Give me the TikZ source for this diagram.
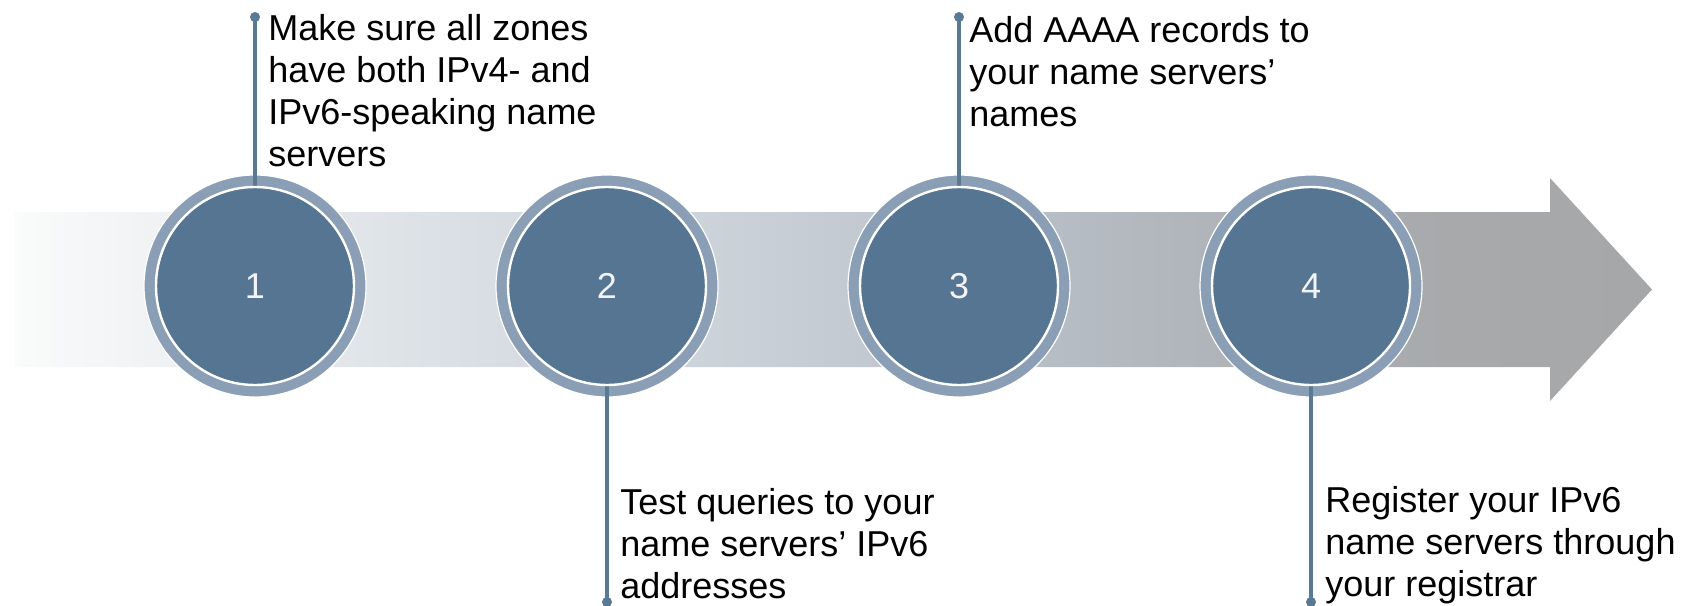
\documentclass[tikz,border=0pt]{standalone}
\usepackage{fontspec}
\setmainfont{Liberation Sans}

\definecolor{bandA}{HTML}{FAFBFB}
\definecolor{bandB}{HTML}{DDE2E7}
\definecolor{bandC}{HTML}{C9D0D7}
\definecolor{bandD}{HTML}{B4BAC1}
\definecolor{bandE}{HTML}{A7A9AB}
\definecolor{bandF}{HTML}{A6A7A8}
\definecolor{ringblue}{HTML}{8A9FB5}
\definecolor{coreblue}{HTML}{557592}
\definecolor{leadblue}{HTML}{5A7995}
\definecolor{numwhite}{HTML}{F2F4F7}

% fading band along the timeline (25bp..75bp spans the path width)
\pgfdeclarehorizontalshading{bandfade}{100bp}{%
  color(0bp)=(bandA); color(25bp)=(bandA); color(37.1bp)=(bandB);
  color(47.5bp)=(bandC); color(58.2bp)=(bandD); color(68.8bp)=(bandE);
  color(75bp)=(bandF); color(100bp)=(bandF)}

\begin{document}
\begin{tikzpicture}[x=0.5pt,y=-0.5pt,
  ring/.style={circle, fill=ringblue, draw=white, line width=0.6pt,
    minimum size=111pt, inner sep=0pt},
  core/.style={circle, fill=coreblue, draw=white, line width=1.2pt,
    minimum size=99pt, inner sep=0pt, text=numwhite,
    font=\fontsize{18pt}{21pt}\selectfont},
  leader/.style={draw=leadblue, line width=2pt},
  enddot/.style={fill=leadblue},
  note/.style={anchor=north west, inner sep=0pt, align=left, text=black,
    font=\fontsize{18pt}{21pt}\selectfont}]

\useasboundingbox (0,0) rectangle (1684,605);

% timeline arrow
\shade[shading=bandfade] (15,212) -- (1550,212) -- (1550,178) -- (1652,289.5)
  -- (1550,401) -- (1550,367) -- (15,367) -- cycle;

% outer rings
\node[ring] (r1) at (255,286) {};
\node[ring] (r2) at (607,286) {};
\node[ring] (r3) at (959,286) {};
\node[ring] (r4) at (1311,286) {};

% leader line ends
\coordinate (e1) at (255,17);
\coordinate (e2) at (607,602);
\coordinate (e3) at (959,17);
\coordinate (e4) at (1311,602);

\draw[leader] (e1) -- (r1.center);
\draw[leader] (e2) -- (r2.center);
\draw[leader] (e3) -- (r3.center);
\draw[leader] (e4) -- (r4.center);
\fill[enddot] (e1) circle (2.5pt);
\fill[enddot] (e2) circle (2.5pt);
\fill[enddot] (e3) circle (2.5pt);
\fill[enddot] (e4) circle (2.5pt);

% numbered discs
\node[core] (n1) at (r1.center) {1};
\node[core] (n2) at (r2.center) {2};
\node[core] (n3) at (r3.center) {3};
\node[core] (n4) at (r4.center) {4};

% step texts
\node[note] (s1) at (268,14) {Make sure all zones\\have both IPv4- and\\IPv6-speaking name\\servers};
\node[note] (s2) at (620,488) {Test queries to your\\name servers’ IPv6\\addresses};
\node[note] (s3) at (969,16) {Add AAAA records to\\your name servers’\\names};
\node[note] (s4) at (1325,486) {Register your IPv6\\name servers through\\your registrar};
\end{tikzpicture}
\end{document}
